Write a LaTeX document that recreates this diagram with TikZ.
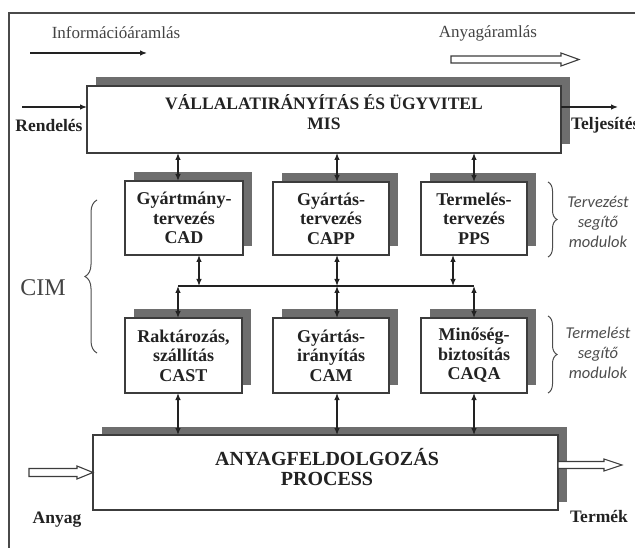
\documentclass[tikz,border=0pt]{standalone}
\usepackage{fontspec}
\setmainfont{Liberation Serif}
\newfontfamily\sidefont{Carlito}
\usetikzlibrary{arrows.meta,shadows,decorations.pathreplacing}
\definecolor{ink}{HTML}{222222}
\definecolor{edge}{HTML}{3C3C3C}
\definecolor{shade}{HTML}{6E6E6E}
\definecolor{note}{HTML}{4D4D4D}
\definecolor{framec}{HTML}{4A4A4A}

\begin{document}
\begin{tikzpicture}[x=1pt,y=-1pt,
  every node/.style={inner sep=0pt,outer sep=0pt},
  box/.style={draw=edge,line width=1.2pt,fill=white,anchor=north west,
    drop shadow={shadow xshift=9pt,shadow yshift=8.5pt,fill=shade,opacity=1}},
  modtext/.style={font=\fontsize{18}{19.5}\selectfont\bfseries,text=ink,align=center},
  bigtext/.style={font=\fontsize{17.5}{20}\selectfont\bfseries,text=ink,align=center},
  proctextstyle/.style={font=\fontsize{20}{20}\selectfont\bfseries,text=ink,align=center},
  toptext/.style={font=\fontsize{17}{20}\selectfont,text=ink!85},
  iolabel/.style={font=\fontsize{17.5}{20}\selectfont\bfseries,text=ink},
  side/.style={font=\sidefont\itshape\fontsize{16.5}{20}\selectfont,text=note,align=center},
  conn/.style={draw=ink,line width=1.2pt},
  flow/.style={conn,-{Latex[length=7pt,width=5.5pt]}},
  dflow/.style={conn,{Latex[length=7pt,width=5.5pt]}-{Latex[length=7pt,width=5.5pt]}},
  hollowline/.style={draw=edge,line width=1.1pt,fill=white,line join=miter},
  bracec/.style={draw=note,line width=1pt,decorate},
]
\useasboundingbox (0,0) rectangle (635,548);

% outer frame (top and left edges only)
\draw[framec,line width=1.2pt] (9,548) -- (9,13) -- (635,13);

% legend of the two flows
\node[toptext] (infolbl) at (116,33) {Információáramlás};
\coordinate (ia) at (30,53);
\coordinate (ib) at (147,53);
\draw[flow] (ia) -- (ib);
\node[toptext] (matlbl) at (488,33) {Anyagáramlás};
\coordinate (ma) at (451,59.5);
\coordinate (mb) at (579,59.5);
\draw[hollowline] (ma) ++(0,-3.5) -- ++(110,0) -- ++(0,-3) -- (mb)
  -- ++(-18,6.5) -- ++(0,-3) -- ++(-110,0) -- cycle;

% management layer
\node[box,minimum width=474pt,minimum height=67pt] (mis) at (87,86) {};
\node[bigtext] (mistext) at (324,112) {VÁLLALATIRÁNYÍTÁS ÉS ÜGYVITEL\\MIS};

% design support modules
\node[box,modtext,minimum width=118pt,minimum height=74pt] (cad) at (125,181) {Gyártmány-\\tervezés\\CAD};
\node[box,modtext,minimum width=116pt,minimum height=73pt] (capp) at (273,182) {Gyártás-\\tervezés\\CAPP};
\node[box,modtext,minimum width=106pt,minimum height=73pt] (pps) at (421,182) {Termelés-\\tervezés\\PPS};

% production support modules
\node[box,modtext,minimum width=117pt,minimum height=75pt] (cast) at (125,318) {Raktározás,\\szállítás\\CAST};
\node[box,modtext,minimum width=116pt,minimum height=75pt] (cam) at (273,318) {Gyártás-\\irányítás\\CAM};
\node[box,modtext,minimum width=106pt,minimum height=75pt] (caqa) at (421,318) {Minőség-\\biztosítás\\CAQA};

% processing layer
\node[box,minimum width=465pt,minimum height=75pt] (process) at (93,435) {};
\node[proctextstyle] (proctext) at (327,467) {ANYAGFELDOLGOZÁS\\PROCESS};

% order in, fulfilment out
\coordinate (rin) at (22,107);
\coordinate (tout) at (618,107);
\draw[flow] (rin) -- (rin -| mis.west);
\draw[flow] (mis.east |- tout) -- (tout);
\node[iolabel] (rendeles) at (49,126) {Rendelés};
\node[iolabel,anchor=west] (teljesites) at (571,125) {Teljesítés};

% material in, product out
\coordinate (ain) at (29,472.5);
\draw[hollowline] (ain) ++(0,-4) -- ++(48,0) -- ++(0,-2.5) -- (process.west)
  -- ++(-16,6.5) -- ++(0,-2.5) -- ++(-48,0) -- cycle;
\coordinate (pout) at (558,465);
\coordinate (tend) at (622,465);
\draw[hollowline] (pout) ++(0,-3.5) -- ++(46,0) -- ++(0,-2.5) -- (tend)
  -- ++(-18,6) -- ++(0,-2.5) -- ++(-46,0) -- cycle;
\node[iolabel] (anyag) at (57,520) {Anyag};
\node[iolabel] (termek) at (599,516) {Termék};

% vertical positions of the links
\coordinate (xa) at (178,0);
\coordinate (xb) at (337,0);
\coordinate (xc) at (474,0);
\coordinate (xd) at (199,0);
\coordinate (xe) at (453,0);
\coordinate (busl) at (178,286);
\coordinate (busr) at (474,286);

% management <-> design modules
\draw[dflow] (mis.south -| xa) -- (cad.north -| xa);
\draw[dflow] (mis.south -| xb) -- (capp.north -| xb);
\draw[dflow] (mis.south -| xc) -- (pps.north -| xc);

% design modules <-> common bus
\draw[dflow] (cad.south -| xd) -- (xd |- busl);
\draw[dflow] (capp.south -| xb) -- (xb |- busl);
\draw[dflow] (pps.south -| xe) -- (xe |- busl);
\draw[conn] (busl) -- (busr);

% common bus <-> production modules
\draw[dflow] (busl) -- (cast.north -| busl);
\draw[dflow] (xb |- busl) -- (cam.north -| xb);
\draw[dflow] (busr) -- (caqa.north -| busr);

% production modules <-> processing
\draw[dflow] (cast.south -| xa) -- (process.north -| xa);
\draw[dflow] (cam.south -| xb) -- (process.north -| xb);
\draw[dflow] (caqa.south -| xc) -- (process.north -| xc);

% CIM brace
\coordinate (cimb) at (97,353);
\coordinate (cimt) at (97,200);
\draw[bracec,decoration={brace,amplitude=12pt}] (cimb) -- (cimt);
\node[font=\fontsize{24}{26}\selectfont,text=ink!85] (cim) at (43,288) {CIM};

% module group braces
\coordinate (dbt) at (548,182);
\coordinate (dbb) at (548,257);
\draw[bracec,decoration={brace,amplitude=9pt}] (dbt) -- (dbb);
\node[side] (designnote) at (598,222) {Tervezést\\segítő\\modulok};
\coordinate (pbt) at (548,316);
\coordinate (pbb) at (548,393);
\draw[bracec,decoration={brace,amplitude=9pt}] (pbt) -- (pbb);
\node[side] (prodnote) at (598,353) {Termelést\\segítő\\modulok};
\end{tikzpicture}
\end{document}
